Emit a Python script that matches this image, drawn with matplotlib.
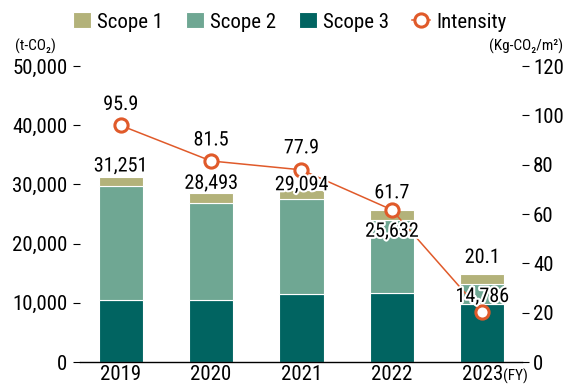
import matplotlib
matplotlib.use("Agg")
import matplotlib.pyplot as plt
import matplotlib.patheffects as pe
from matplotlib.ticker import FuncFormatter, FixedLocator

plt.rcParams['font.family'] = ['Roboto Condensed', 'DejaVu Sans']

years = ['2019', '2020', '2021', '2022', '2023']
scope1 = [1601, 1593, 1594, 1632, 1586]
scope2 = [19250, 16350, 16000, 12400, 3400]
scope3 = [10400, 10550, 11500, 11600, 9800]
totals = [31251, 28493, 29094, 25632, 14786]
intensity = [95.9, 81.5, 77.9, 61.7, 20.1]

c_s1 = '#b3b27a'
c_s2 = '#6fa793'
c_s3 = '#016461'
c_int = '#e05a2a'

fig = plt.figure(figsize=(5.65, 3.85), dpi=100)
ax = fig.add_axes([80 / 565, 23 / 385, 442 / 565, 296 / 385])
ax2 = ax.twinx()
ax.set_zorder(ax2.get_zorder() - 1)
ax.patch.set_visible(False)

x = list(range(len(years)))
w = 0.49
bottom2 = scope3
bottom1 = [a + b for a, b in zip(scope3, scope2)]
b3 = ax.bar(x, scope3, w, color=c_s3, edgecolor='white', linewidth=0.8, label='Scope 3')
b2 = ax.bar(x, scope2, w, bottom=bottom2, color=c_s2, edgecolor='white', linewidth=0.8, label='Scope 2')
b1 = ax.bar(x, scope1, w, bottom=bottom1, color=c_s1, edgecolor='white', linewidth=0.8, label='Scope 1')

ax.set_xlim(-0.45, 4.44)
ax.set_ylim(0, 50000)
ax.yaxis.set_major_locator(FixedLocator([0, 10000, 20000, 30000, 40000, 50000]))
ax.yaxis.set_major_formatter(FuncFormatter(lambda v, p: f'{int(v):,}'))
ax.set_xticks(x)
ax.set_xticklabels(years)
ax.tick_params(axis='x', length=0, labelsize=15, pad=2)
ax.tick_params(axis='y', length=5, width=0.8, labelsize=15, pad=4)
for s in ['top', 'left', 'right']:
    ax.spines[s].set_visible(False)
ax.spines['bottom'].set_linewidth(1.0)

# intensity line on the right axis
ln, = ax2.plot(x, intensity, color=c_int, lw=1.1, marker='o', ms=9.5,
               mfc='white', mec=c_int, mew=2.2, label='Intensity', zorder=5)
ax2.set_ylim(0, 120)
ax2.set_yticks([0, 20, 40, 60, 80, 100, 120])
ax2.tick_params(axis='y', length=5, width=0.8, labelsize=15, pad=3)
for s in ['top', 'left', 'right', 'bottom']:
    ax2.spines[s].set_visible(False)

halo = [pe.withStroke(linewidth=3, foreground='white')]

# total labels sit on ax2 (bar data coords) so they stay above the line
tot_off = [11, 10, 5, -21, -22]
for i, t in enumerate(totals):
    ax2.annotate(f'{t:,}', (x[i], t), xycoords=ax.transData, xytext=(0, tot_off[i]),
                 textcoords='offset pixels', ha='center', va='center', fontsize=14.5,
                 path_effects=halo, zorder=6)

int_off = [21, 21, 22, 17, 55]
for i, v in enumerate(intensity):
    ax2.annotate(f'{v}', (x[i], v), xytext=(0, int_off[i]), textcoords='offset pixels',
                 ha='center', va='center', fontsize=14.5, path_effects=halo, zorder=7)

fig.text(15 / 565, 1 - 46 / 385, '(t-CO₂)', fontsize=11, va='center', ha='left')
fig.text(563 / 565, 1 - 46 / 385, '(Kg-CO₂/m²)', fontsize=11, va='center', ha='right')
fig.text(503 / 565, 1 - 376 / 385, '(FY)', fontsize=11, va='center', ha='left')

fig.legend([b1, b2, b3, ln], ['Scope 1', 'Scope 2', 'Scope 3', 'Intensity'],
           loc='center', bbox_to_anchor=(290 / 565, 1 - 22 / 385), ncol=4, frameon=False,
           fontsize=15, handlelength=0.85, handleheight=0.8, handletextpad=0.3,
           columnspacing=1.1, borderpad=0)

fig.savefig('out.png', dpi=100)
